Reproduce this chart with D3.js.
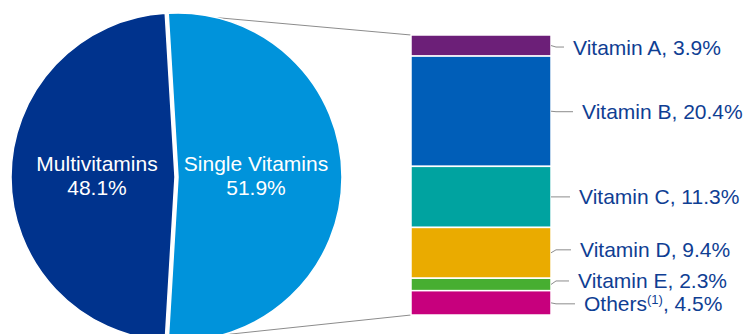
<!DOCTYPE html>
<html>
<head>
<meta charset="utf-8">
<script src="https://cdn.jsdelivr.net/npm/d3@7"></script>
<style>
  body { margin: 0; background: #fff; }
  svg { display: block; font-family: "Liberation Sans", Arial, sans-serif; }
</style>
</head>
<body>
<div id="chart"></div>
<script>
// Pie of pie: supplements split, single vitamins broken down

const pieNames = ["Single Vitamins", "Multivitamins"];
const pieValues = [51.9, 48.1];
const pieColors = ["#0093db", "#00338d"];

const barNames = ["Vitamin A", "Vitamin B", "Vitamin C", "Vitamin D", "Vitamin E", "Others"];
const barValues = [3.9, 20.4, 11.3, 9.4, 2.3, 4.5];
const barColors = ["#6c1f78", "#005eb8", "#00a3a0", "#eaab00", "#47ae31", "#c7007d"];

// small label nudges (layout only)
const labelDx = [573, 582, 579, 580, 578, 584];
const labelDy = [1.5, 0.5, 0, -3, -3.5, 1];

const width = 746, height = 334;
const cx = 175, cy = 177, R = 164;
const barX = 411, barW = 140, barTop = 35, barBottom = 315;

const svg = d3.select('#chart')
  .append('svg')
    .attr('width', width)
    .attr('height', height)
    .attr('viewBox', [0, 0, width, height]);

const total = d3.sum(pieValues);
const start = Math.PI / 2 - Math.PI * pieValues[0] / total;

const pie = d3.pie()
    .sort(null)
    .value(d => d)
    .startAngle(start)
    .endAngle(start + 2 * Math.PI);

const arcs = pie(pieValues);

const arc = d3.arc().innerRadius(0).outerRadius(R);
const labelArc = d3.arc().innerRadius(78).outerRadius(78);

// connector lines from single-vitamin slice to the bar
const single = arcs[0];
const explode = 3;
const p0 = [cx + explode + R * Math.sin(single.startAngle), cy - R * Math.cos(single.startAngle)];
const p1 = [cx + explode + R * Math.sin(single.endAngle), cy - R * Math.cos(single.endAngle)];

const y = d3.scaleLinear()
    .domain([0, d3.sum(barValues)])
    .range([barTop, barBottom]);

svg.append('g')
    .attr('stroke', '#8c8c8c')
    .attr('stroke-width', 1)
  .selectAll('line')
  .data([[p0, [barX, y(0)]], [p1, [barX, y(d3.sum(barValues))]]])
  .join('line')
    .attr('x1', d => d[0][0])
    .attr('y1', d => d[0][1])
    .attr('x2', d => d[1][0])
    .attr('y2', d => d[1][1]);

const pieG = svg.append('g')
    .attr('transform', `translate(${cx},${cy})`);

pieG.selectAll('path')
  .data(arcs)
  .join('path')
    .attr('d', arc)
    .attr('fill', (d, i) => pieColors[i])
    .attr('stroke', '#fff')
    .attr('stroke-width', 1.5)
    .attr('transform', (d, i) => i === 0 ? `translate(${explode},0)` : null);

const pieText = pieG.selectAll('text')
  .data(arcs)
  .join('text')
    .attr('transform', (d, i) => {
      const c = labelArc.centroid(d);
      return `translate(${c[0] + (i === 0 ? explode : 0)},${c[1]})`;
    })
    .attr('text-anchor', 'middle')
    .attr('fill', '#fff')
    .style('font-size', '21px');

pieText.append('tspan')
    .attr('x', 0)
    .attr('y', -6)
    .text((d, i) => pieNames[i]);

pieText.append('tspan')
    .attr('x', 0)
    .attr('y', 18)
    .text((d, i) => pieValues[i].toFixed(1) + '%');

// stacked bar
const cum = d3.cumsum([0].concat(barValues));

svg.append('g')
  .selectAll('rect')
  .data(barValues)
  .join('rect')
    .attr('x', barX)
    .attr('width', barW)
    .attr('y', (d, i) => y(cum[i]))
    .attr('height', (d, i) => y(cum[i + 1]) - y(cum[i]))
    .attr('fill', (d, i) => barColors[i])
    .attr('stroke', '#fff')
    .attr('stroke-width', 1.5);

// labels with leader lines
const labelG = svg.append('g');

barValues.forEach((v, i) => {
  const mid = (y(cum[i]) + y(cum[i + 1])) / 2;
  const ly = mid + labelDy[i];
  const tx = labelDx[i];

  labelG.append('polyline')
      .attr('points', [[barX + barW, mid], [barX + barW + 5, ly], [tx - 9, ly]].join(' '))
      .attr('fill', 'none')
      .attr('stroke', '#8c8c8c')
      .attr('stroke-width', 1);

  const t = labelG.append('text')
      .attr('x', tx)
      .attr('y', ly + 7.5)
      .attr('fill', '#0f3e93')
      .style('font-size', '21px');

  t.append('tspan').text(barNames[i]);
  if (barNames[i] === 'Others') {
    t.append('tspan')
        .attr('dy', -7)
        .style('font-size', '13px')
        .text('(1)');
    t.append('tspan')
        .attr('dy', 7)
        .text(', ' + v.toFixed(1) + '%');
  } else {
    t.append('tspan').text(', ' + v.toFixed(1) + '%');
  }
});
</script>
</body>
</html>
